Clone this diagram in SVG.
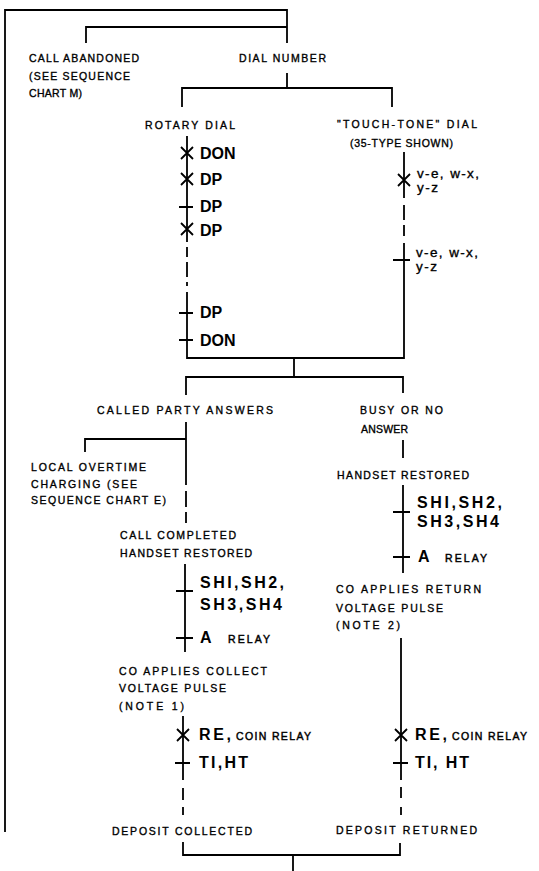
<svg xmlns="http://www.w3.org/2000/svg" width="539" height="871" viewBox="0 0 539 871">
<style>
.c{stroke:#000;stroke-width:1.8;fill:none;stroke-linecap:butt}
.t{font-family:"Liberation Sans",Arial,sans-serif;font-size:10.5px;fill:#000;stroke:#000;stroke-width:0.35}
.v{font-family:"Liberation Sans",Arial,sans-serif;font-size:13.5px;fill:#000;stroke:#000;stroke-width:0.35}
.b{font-family:"Liberation Sans",Arial,sans-serif;font-size:16px;font-weight:bold;fill:#000}
.s{font-family:"Liberation Sans",Arial,sans-serif;font-size:10.5px;fill:#000;stroke:#000;stroke-width:0.45}
</style>
<rect width="539" height="871" fill="#fff"/>
<g id="connectors">
<path class="c" d="M5,832 V10 H287 V43 M86,43 V27 H287"/>
<path class="c" d="M287,73 V88 M182,107 V88 H392 V107"/>
<path class="c" d="M187,136 V242 M187,247 V257 M187,262 V277 M187,282 V286 M187,292 V358 H404 V243 M404,236 V225 M404,220 V205 M404,198 V152"/>
<path class="c" d="M294,358 V377 M186,395 V377 H403 V393"/>
<path class="c" d="M186,422 V485 M186,491 V507 M186,512 V523 M85,452 V439 H186"/>
<path class="c" d="M185,564 V652 M183,716 V780 M183,788 V800 M183,807 V815 M183,842 V855 H400 V843 M293,855 V871"/>
<path class="c" d="M403,440 V458 M403,485 V573 M401,638 V780 M401,787 V798 M401,807 V815"/>
<path class="c" d="M181,147 L193,159 M181,159 L193,147 M181,173 L193,185 M181,185 L193,173 M179,207 H193 M181,223 L193,235 M181,235 L193,223 M179,313 H193 M179,340 H193"/>
<path class="c" d="M398,174 L410,186 M398,186 L410,174 M393,260 H410"/>
<path class="c" d="M176,591 H193 M176,638 H193 M177,729 L189,741 M177,741 L189,729 M175,763 H190"/>
<path class="c" d="M393,512 H410 M393,557 H410 M395,729 L407,741 M395,741 L407,729 M393,763 H408"/>
</g>
<g id="call-abandoned"><text class="t" x="29" y="62" textLength="110">CALL ABANDONED</text><text class="t" x="29" y="80" textLength="101">(SEE SEQUENCE</text><text class="t" x="29" y="97" textLength="53">CHART M)</text></g>
<g id="dial-number"><text class="t" x="239" y="62" textLength="87">DIAL NUMBER</text></g>
<g id="rotary-dial"><text class="t" x="145" y="129" textLength="90">ROTARY DIAL</text>
<text class="b" x="200" y="159">DON</text><text class="b" x="200" y="185">DP</text><text class="b" x="200" y="212">DP</text><text class="b" x="200" y="236">DP</text><text class="b" x="200" y="318">DP</text><text class="b" x="200" y="346">DON</text></g>
<g id="touch-tone-dial"><text class="t" x="337" y="128" textLength="140">"TOUCH-TONE" DIAL</text><text class="t" x="350" y="147" textLength="103">(35-TYPE SHOWN)</text>
<text class="v" x="417" y="178" textLength="62">v-e, w-x,</text><text class="v" x="417" y="192" textLength="21">y-z</text>
<text class="v" x="416" y="257" textLength="62">v-e, w-x,</text><text class="v" x="416" y="271" textLength="21">y-z</text></g>
<g id="called-party-answers"><text class="t" x="97" y="414" textLength="176">CALLED PARTY ANSWERS</text></g>
<g id="local-overtime"><text class="t" x="31" y="471" textLength="115">LOCAL OVERTIME</text><text class="t" x="31" y="488" textLength="106">CHARGING (SEE</text><text class="t" x="31" y="504" textLength="135">SEQUENCE CHART E)</text></g>
<g id="call-completed"><text class="t" x="120" y="539" textLength="116">CALL COMPLETED</text><text class="t" x="120" y="557" textLength="132">HANDSET RESTORED</text>
<text class="b" x="200" y="588" textLength="84">SHI,SH2,</text><text class="b" x="200" y="610" textLength="82">SH3,SH4</text>
<text class="b" x="200" y="643">A</text><text class="s" x="228" y="643" textLength="42">RELAY</text></g>
<g id="collect-pulse"><text class="t" x="119" y="675" textLength="148">CO APPLIES COLLECT</text><text class="t" x="119" y="692" textLength="107">VOLTAGE PULSE</text><text class="t" x="119" y="710" textLength="65">(NOTE 1)</text>
<text class="b" x="199" y="740" textLength="32">RE,</text><text class="s" x="236" y="740" textLength="75">COIN RELAY</text><text class="b" x="199" y="768" textLength="49">TI,HT</text></g>
<g id="deposit-collected"><text class="t" x="112" y="835" textLength="140">DEPOSIT COLLECTED</text></g>
<g id="busy-no-answer"><text class="t" x="360" y="414" textLength="83">BUSY OR NO</text><text class="t" x="361" y="433" textLength="47">ANSWER</text></g>
<g id="handset-restored"><text class="t" x="337" y="479" textLength="132">HANDSET RESTORED</text>
<text class="b" x="417" y="508" textLength="85">SHI,SH2,</text><text class="b" x="417" y="527" textLength="82">SH3,SH4</text>
<text class="b" x="418" y="562">A</text><text class="s" x="445" y="562" textLength="42">RELAY</text></g>
<g id="return-pulse"><text class="t" x="336" y="593" textLength="145">CO APPLIES RETURN</text><text class="t" x="336" y="612" textLength="107">VOLTAGE PULSE</text><text class="t" x="336" y="629" textLength="64">(NOTE 2)</text>
<text class="b" x="415" y="740" textLength="32">RE,</text><text class="s" x="452" y="740" textLength="75">COIN RELAY</text><text class="b" x="415" y="768" textLength="54">TI, HT</text></g>
<g id="deposit-returned"><text class="t" x="336" y="834" textLength="141">DEPOSIT RETURNED</text></g>
</svg>
